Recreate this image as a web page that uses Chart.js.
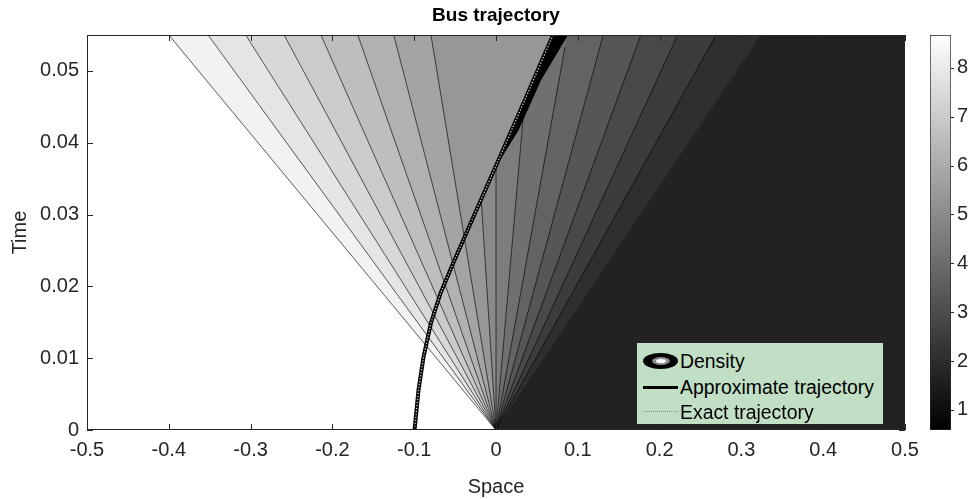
<!DOCTYPE html>
<html>
<head>
<meta charset="utf-8">
<script src="https://cdn.jsdelivr.net/npm/chart.js@4/dist/chart.umd.min.js"></script>
<style>
  html, body { margin: 0; padding: 0; background: #fff; overflow: hidden; }
  #wrap { position: relative; width: 973px; height: 499px; font-family: Arial, 'Liberation Sans', sans-serif; }
  #main { position: absolute; left: 0; top: 0; }
  #cbar { position: absolute; left: 920px; top: 0; }
  .legend { position: absolute; left: 637px; top: 343px; width: 246px; height: 81px; background: #c0dfc5; }
  .row { position: absolute; left: 0; width: 246px; height: 26px; display: flex; align-items: center; font-size: 19.4px; color: #000; }
  .ico { position: relative; width: 38px; height: 26px; margin-left: 5px; flex: none; }
  .ring { position: absolute; left: 1px; top: 5px; width: 35px; height: 16px; border-radius: 50%; background: #000; }
  .mid { position: absolute; left: 9px; top: 4px; width: 18px; height: 8px; border-radius: 50%; background: #8c8c8c; }
  .core { position: absolute; left: 4px; top: 2px; width: 10px; height: 4px; border-radius: 50%; background: #fff; }
  .solid { position: absolute; left: 1px; top: 12px; width: 35px; height: 0; border-top: 3px solid #000; }
  .dots { position: absolute; left: 1px; top: 12px; width: 35px; height: 0; border-top: 1px dotted #888; }
</style>
</head>
<body>
<div id="wrap">
  <canvas id="main" width="973" height="499"></canvas>
  <canvas id="cbar" width="53" height="499"></canvas>
  <div class="legend">
    <div class="row" style="top:5px"><span class="ico"><span class="ring"><span class="mid"><span class="core"></span></span></span></span><span>Density</span></div>
    <div class="row" style="top:31px"><span class="ico"><span class="solid"></span></span><span>Approximate trajectory</span></div>
    <div class="row" style="top:56px"><span class="ico"><span class="dots"></span></span><span>Exact trajectory</span></div>
  </div>
</div>
<script>
const xTicks = [-0.5, -0.4, -0.3, -0.2, -0.1, 0, 0.1, 0.2, 0.3, 0.4, 0.5];
const yTicks = [0, 0.01, 0.02, 0.03, 0.04, 0.05];
const cbTicks = [1, 2, 3, 4, 5, 6, 7, 8];
const cbMin = 0.59;
const cbMax = 8.67;
const tTop = 0.055;

// fan characteristics through the origin: x reached at t = tTop, and where each line stops
const fanTopX = [-0.400, -0.352, -0.306, -0.259, -0.214, -0.169, -0.125, -0.0795, -0.031,
                 0, 0.042, 0.087, 0.131, 0.177, 0.222, 0.269, 0.324];
const fanEndT = [0.055, 0.055, 0.055, 0.055, 0.055, 0.055, 0.055, 0.055, 0.0321,
                 0.0368, 0.0435, 0.0533, 0.055, 0.055, 0.055, 0.055, 0.055];
// density between fan line i and i+1
const bandDensity = [8.26, 7.85, 7.43, 7.02, 6.61, 6.20, 5.79, 5.37,
                     4.96, 4.55, 4.14, 3.73, 3.31, 2.90, 2.49, 2.08];
const rightDensity = 1.67;

// bus trajectory
const trajT = [0, 0.00557, 0.01017, 0.0149, 0.01908, 0.02367, 0.02827, 0.033, 0.0376, 0.04177, 0.04637, 0.0511, 0.055];
const trajX = [-0.0996, -0.0947, -0.0886, -0.0795, -0.0677, -0.0507, -0.033, -0.0147, 0.0031, 0.0192, 0.0369, 0.0548, 0.0698];
const exactX = [-0.0996, -0.0947, -0.0886, -0.0795, -0.0677, -0.0507, -0.033, -0.0147, 0.0031, 0.0192, 0.0369, 0.0548, 0.0698];

// dense contour wedge just ahead of the bus
const wedgeX = [0.003, 0.028, 0.055, 0.088];
const wedgeT = [0.0372, 0.0418, 0.0487, 0.055];

const TEXT = '#262626';
const FONT = 'Arial, "Liberation Sans", sans-serif';

function gray(rho) {
  const v = Math.round(255 * (rho - cbMin) / (cbMax - cbMin));
  return `rgb(${v},${v},${v})`;
}

const pts = (xs, ts) => xs.map((x, i) => ({ x, y: ts[i] }));
const fillSet = (data, color, fill) => ({
  data, fill, backgroundColor: color, borderColor: 'transparent', borderWidth: 0,
  showLine: true, pointRadius: 0,
});

// where the fan line with top position xTop meets the trajectory
function meetTrajectory(xTop) {
  const s = xTop / tTop;
  for (let i = 1; i < trajT.length; i++) {
    const d0 = trajX[i - 1] - s * trajT[i - 1];
    const d1 = trajX[i] - s * trajT[i];
    if (d0 < 0 && d1 >= 0) {
      const f = d0 / (d0 - d1);
      const t = trajT[i - 1] + f * (trajT[i] - trajT[i - 1]);
      return { i, x: s * t, y: t };
    }
  }
  return null;
}

const layers = [];
layers.push(fillSet([{ x: 0, y: 0 }, { x: fanTopX[16], y: tTop }, { x: 0.5, y: tTop }], gray(rightDensity), 'start'));

fanTopX.forEach((x, i) => {
  if (x < 0) layers.push(fillSet([{ x, y: tTop }, { x: 0, y: 0 }], gray(bandDensity[i]), 'end'));
});
for (let i = fanTopX.length - 1; i >= 0; i--) {
  if (fanTopX[i] > 0) layers.push(fillSet([{ x: 0, y: 0 }, { x: fanTopX[i], y: tTop }], gray(bandDensity[i - 1]), 'end'));
}

layers.push(fillSet(pts(wedgeX, wedgeT), '#000', 'end'));

// region behind the bus, bounded by fan line 7 and the trajectory
const p = meetTrajectory(fanTopX[7]);
layers.push(fillSet(
  [{ x: fanTopX[7], y: tTop }, { x: p.x, y: p.y }, ...pts(trajX.slice(p.i), trajT.slice(p.i))],
  gray(bandDensity[7]), 'end'));

fanTopX.forEach((x, i) => {
  layers.push({
    data: [{ x: 0, y: 0 }, { x: x * fanEndT[i] / tTop, y: fanEndT[i] }],
    showLine: true, pointRadius: 0, fill: false,
    borderColor: 'rgba(0,0,0,0.8)', borderWidth: 0.8,
  });
});

layers.push({
  label: 'Approximate trajectory', data: pts(trajX, trajT),
  showLine: true, pointRadius: 0, fill: false, borderColor: '#000', borderWidth: 4,
});
layers.push({
  label: 'Exact trajectory', data: pts(exactX, trajT),
  showLine: true, pointRadius: 0, fill: false, borderColor: '#cfcfcf', borderWidth: 1.3,
  borderDash: [1.3, 1.7],
});

layers.forEach((d, i) => { d.order = layers.length - i; });

const axesBox = {
  id: 'axesBox',
  afterDatasetsDraw(chart) {
    const { ctx, chartArea: a, scales: { x, y } } = chart;
    ctx.save();
    ctx.strokeStyle = TEXT;
    ctx.lineWidth = 1;
    ctx.beginPath();
    xTicks.forEach(v => {
      const px = Math.round(x.getPixelForValue(v)) + 0.5;
      ctx.moveTo(px, a.bottom); ctx.lineTo(px, a.bottom - 6);
      ctx.moveTo(px, a.top); ctx.lineTo(px, a.top + 6);
    });
    yTicks.forEach(v => {
      const py = Math.round(y.getPixelForValue(v)) + 0.5;
      ctx.moveTo(a.left, py); ctx.lineTo(a.left + 6, py);
      ctx.moveTo(a.right, py); ctx.lineTo(a.right - 6, py);
    });
    ctx.stroke();
    ctx.strokeRect(Math.round(a.left) + 0.5, Math.round(a.top) + 0.5, Math.round(a.width) - 1, Math.round(a.height) - 1);
    ctx.restore();
  },
};

new Chart(document.getElementById('main'), {
  type: 'scatter',
  data: { datasets: layers },
  plugins: [axesBox],
  options: {
    responsive: false,
    animation: false,
    events: [],
    layout: { padding: { left: 8, right: 68, top: 0, bottom: 0 } },
    plugins: {
      legend: { display: false },
      tooltip: { enabled: false },
      filler: { propagate: false },
    },
    scales: {
      x: {
        type: 'linear', min: -0.5, max: 0.5,
        afterBuildTicks: s => { s.ticks = xTicks.map(v => ({ value: v })); },
        afterFit: s => { s.height = 69; },
        grid: { display: false, drawTicks: false },
        border: { display: false },
        ticks: { color: TEXT, font: { family: FONT, size: 20 }, padding: 8, maxRotation: 0,
                 callback: v => String(+v.toFixed(1)) },
        title: { display: true, text: 'Space', color: TEXT, font: { family: FONT, size: 20 },
                 padding: { top: 0, bottom: 0 } },
      },
      x2: {
        type: 'linear', position: 'top', min: -0.5, max: 0.5,
        afterFit: s => { s.height = 35; },
        grid: { display: false, drawTicks: false },
        border: { display: false },
        ticks: { display: false },
        title: { display: true, text: 'Bus trajectory', color: '#000',
                 font: { family: FONT, size: 19, weight: 'bold' }, padding: { top: 4, bottom: 0 } },
      },
      y: {
        type: 'linear', min: 0, max: tTop,
        afterBuildTicks: s => { s.ticks = yTicks.map(v => ({ value: v })); },
        afterFit: s => { s.width = 79; },
        grid: { display: false, drawTicks: false },
        border: { display: false },
        ticks: { color: TEXT, font: { family: FONT, size: 20 }, padding: 8,
                 callback: v => String(+v.toFixed(2)) },
        title: { display: true, text: 'Time', color: TEXT, font: { family: FONT, size: 20 },
                 padding: { top: 0, bottom: 0 } },
      },
    },
  },
});

const cbTickMarks = {
  id: 'cbTickMarks',
  afterDraw(chart) {
    const { ctx, chartArea: a, scales: { y } } = chart;
    ctx.save();
    ctx.strokeStyle = TEXT;
    ctx.lineWidth = 1;
    ctx.beginPath();
    cbTicks.forEach(v => {
      const py = Math.round(y.getPixelForValue(v)) + 0.5;
      ctx.moveTo(a.right, py); ctx.lineTo(a.right + 3, py);
    });
    ctx.stroke();
    ctx.restore();
  },
};

new Chart(document.getElementById('cbar'), {
  type: 'bar',
  data: {
    labels: ['density'],
    datasets: [{
      data: [[cbMin, cbMax]],
      backgroundColor: ctx => {
        const a = ctx.chart.chartArea;
        if (!a) return '#808080';
        const g = ctx.chart.ctx.createLinearGradient(0, a.bottom, 0, a.top);
        g.addColorStop(0, gray(cbMin));
        g.addColorStop(1, gray(cbMax));
        return g;
      },
      borderColor: TEXT,
      borderWidth: 1,
      borderSkipped: false,
      barPercentage: 1,
      categoryPercentage: 1,
    }],
  },
  plugins: [cbTickMarks],
  options: {
    responsive: false,
    animation: false,
    events: [],
    layout: { padding: { left: 10, right: 0, top: 35, bottom: 69 } },
    plugins: { legend: { display: false }, tooltip: { enabled: false } },
    scales: {
      x: { display: false },
      y: {
        position: 'right', min: cbMin, max: cbMax,
        afterBuildTicks: s => { s.ticks = cbTicks.map(v => ({ value: v })); },
        afterFit: s => { s.width = 22; },
        grid: { display: false, drawTicks: false },
        border: { display: false },
        ticks: { color: TEXT, font: { family: FONT, size: 20 }, padding: 6 },
      },
    },
  },
});
</script>
</body>
</html>
